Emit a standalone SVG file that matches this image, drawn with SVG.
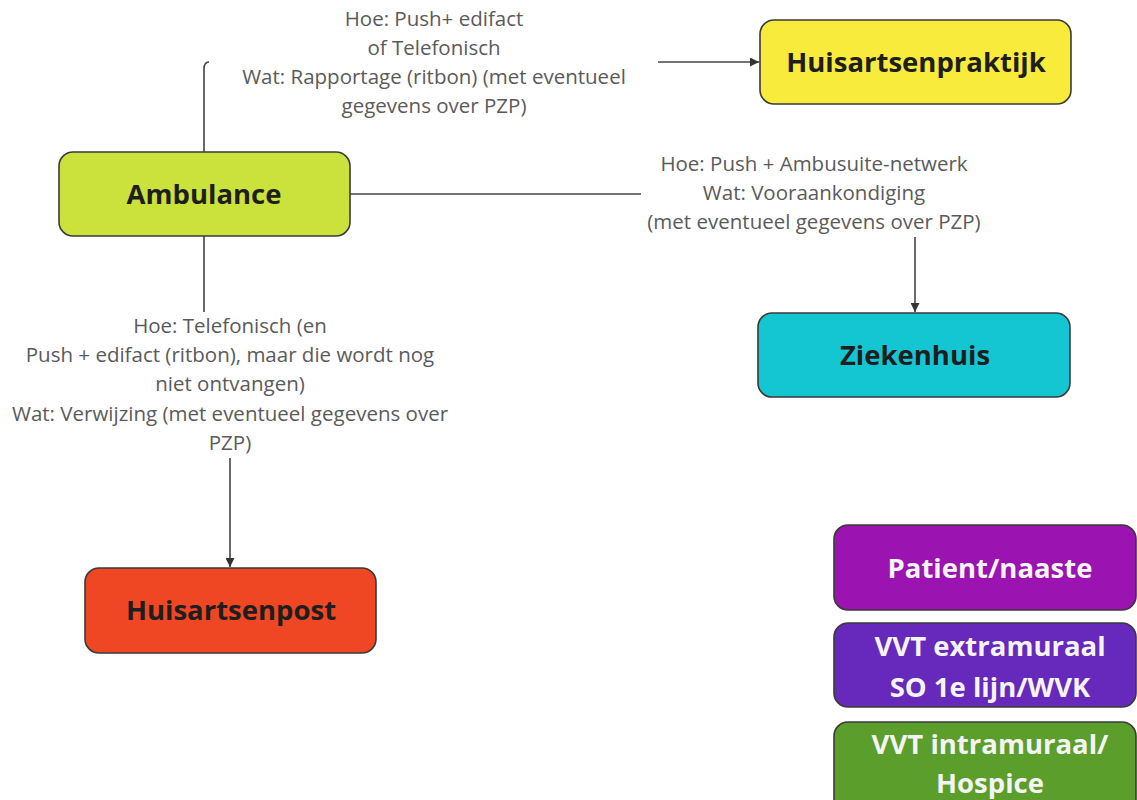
<svg xmlns="http://www.w3.org/2000/svg" width="1137" height="800" viewBox="0 0 1137 800">
<defs>
<style>
.node{stroke:#3a3a3a;stroke-width:1.6}
.nt{font-family:"Open Sans","Liberation Sans",sans-serif;font-weight:bold;font-size:27.5px;text-anchor:middle;fill:#1e1e1e}
.wt{fill:#f4f4f4}
.lbl{font-family:"Open Sans","Liberation Sans",sans-serif;font-size:20.5px;text-anchor:middle;fill:#5a5a5a}
.conn{fill:none;stroke:#444;stroke-width:1.6}
</style>
<marker id="arr" viewBox="0 0 10 10" refX="10" refY="5" markerWidth="9" markerHeight="9" markerUnits="userSpaceOnUse" orient="auto">
<path d="M0,0 L10,5 L0,10 z" fill="#333"/>
</marker>
</defs>
<rect width="1137" height="800" fill="#ffffff"/>
<g id="connectors">
<path class="conn" d="M204,152 V69 Q204,62 209,62"/>
<path class="conn" d="M658,62 H759" marker-end="url(#arr)"/>
<path class="conn" d="M350,194 H641"/>
<path class="conn" d="M915,237 V312" marker-end="url(#arr)"/>
<path class="conn" d="M204,236 V312"/>
<path class="conn" d="M230,458 V567" marker-end="url(#arr)"/>
<g id="label-huisartsenpraktijk">
<text class="lbl" x="434" y="26">Hoe: Push+ edifact</text>
<text class="lbl" x="434" y="55">of Telefonisch</text>
<text class="lbl" x="434" y="84">Wat: Rapportage (ritbon) (met eventueel</text>
<text class="lbl" x="434" y="113">gegevens over PZP)</text>
</g>
<g id="label-ziekenhuis">
<text class="lbl" x="814" y="171">Hoe: Push + Ambusuite-netwerk</text>
<text class="lbl" x="814" y="200">Wat: Vooraankondiging</text>
<text class="lbl" x="814" y="229">(met eventueel gegevens over PZP)</text>
</g>
<g id="label-huisartsenpost">
<text class="lbl" x="230" y="333">Hoe: Telefonisch (en</text>
<text class="lbl" x="230" y="362">Push + edifact (ritbon), maar die wordt nog</text>
<text class="lbl" x="230" y="391">niet ontvangen)</text>
<text class="lbl" x="230" y="421">Wat: Verwijzing (met eventueel gegevens over</text>
<text class="lbl" x="230" y="450">PZP)</text>
</g>
</g>
<g id="ambulance">
<rect class="node" x="59" y="152" width="291" height="84" rx="14" fill="#cbe23c"/>
<text class="nt" x="204" y="204">Ambulance</text>
</g>
<g id="huisartsenpraktijk">
<rect class="node" x="760" y="20" width="311" height="84" rx="14" fill="#f8eb3c"/>
<text class="nt" x="916" y="72">Huisartsenpraktijk</text>
</g>
<g id="ziekenhuis">
<rect class="node" x="758" y="313" width="312" height="84" rx="14" fill="#14c6d2"/>
<text class="nt" x="915" y="365">Ziekenhuis</text>
</g>
<g id="huisartsenpost">
<rect class="node" x="85" y="568" width="291" height="85" rx="14" fill="#ef4723"/>
<text class="nt" x="231" y="620">Huisartsenpost</text>
</g>
<g id="patient-naaste">
<rect class="node" x="834" y="525" width="302" height="85" rx="14" fill="#9b13b0"/>
<text class="nt wt" x="990" y="578">Patient/naaste</text>
</g>
<g id="vvt-extramuraal">
<rect class="node" x="834" y="623" width="302" height="84" rx="14" fill="#6629bb"/>
<text class="nt wt" x="990" y="656">VVT extramuraal</text>
<text class="nt wt" x="990" y="697">SO 1e lijn/WVK</text>
</g>
<g id="vvt-intramuraal">
<rect class="node" x="834" y="722" width="302" height="95" rx="14" fill="#5c9e2c"/>
<text class="nt wt" x="990" y="754">VVT intramuraal/</text>
<text class="nt wt" x="990" y="793">Hospice</text>
</g>
</svg>
